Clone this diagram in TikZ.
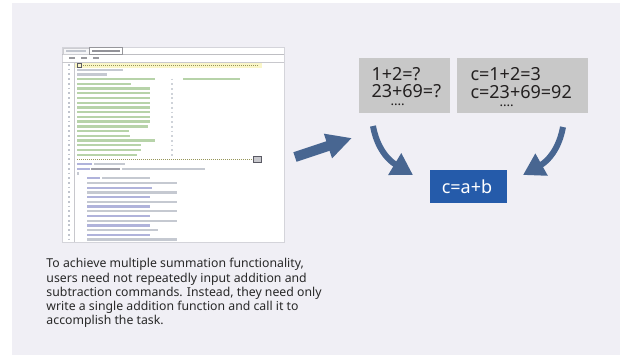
\documentclass[tikz,border=0pt]{standalone}
\usepackage{fontspec}
\setmainfont{Noto Sans}
\usetikzlibrary{arrows.meta}
\definecolor{panelbg}{RGB}{240,239,245}
\definecolor{boxgray}{RGB}{200,200,200}
\definecolor{boxblue}{RGB}{37,91,170}
\definecolor{arrowblue}{RGB}{72,102,145}
\definecolor{codegreen}{RGB}{125,175,100}
\definecolor{codegray}{RGB}{150,158,172}
\definecolor{codeblue}{RGB}{112,118,190}
\definecolor{codeyellow}{RGB}{250,246,200}
\tikzset{every picture/.style={line width=0.75pt}}
\tikzset{
  graybox/.style={fill=boxgray, inner sep=0pt, outer sep=0pt},
  bluebox/.style={fill=boxblue, inner sep=0pt, outer sep=0pt, minimum width=57.75pt, minimum height=24.75pt},
  sumtext/.style={inner sep=0pt, align=left, text={rgb,255:red,35;green,32;blue,32}, font=\fontsize{13.5}{13}\selectfont},
  bodytext/.style={inner sep=0pt, align=left, text={rgb,255:red,40;green,40;blue,40}, font=\fontsize{9.2}{10.7}\selectfont},
  bentarrow/.style={draw=arrowblue, line width=4.5pt, -{Triangle[width=18pt,length=16pt]}},
  fatarrow/.style={draw=arrowblue, line width=7.5pt, -{Triangle[width=18pt,length=19pt]}},
  codeline/.style={line width=1.7pt, draw opacity=0.55},
}
\newcommand{\sumdots}[1]{\\[-7pt]\hspace*{#1}{\fontsize{10}{10}\selectfont ....}}

\begin{document}
\begin{tikzpicture}[x=0.75pt,y=0.75pt,yscale=-1,xscale=1]
	\useasboundingbox (0,0) rectangle (626,355);

	%Shape: Rectangle (panel)
	\fill [panelbg] (12,3) rectangle (620,355);

	%Shape: Rectangle (screenshot)
	\draw [draw={rgb,255:red,212;green,212;blue,218}, fill=white] (62,47) rectangle (284,242);
	%Straight Lines (tab bar)
	\draw [draw={rgb,255:red,190;green,190;blue,195}, line width=0.5] (62,54) -- (284,54);
	\draw [draw={rgb,255:red,205;green,205;blue,210}, fill={rgb,255:red,246;green,246;blue,248}, line width=0.5] (63,48) rectangle (89,54);
	\draw [draw={rgb,255:red,150;green,150;blue,155}, fill=white, line width=0.5] (89,47.5) rectangle (122,54);
	\draw [codeline, codegray] (66,51) -- (86,51);
	\draw [codeline, draw={rgb,255:red,60;green,60;blue,70}] (92,51) -- (120,51);
	%Straight Lines (menu)
	\draw [codeline, draw={rgb,255:red,70;green,70;blue,80}] (69,58) -- (75,58);
	\draw [codeline, draw={rgb,255:red,70;green,70;blue,80}] (81,58) -- (87,58);
	\draw [codeline, draw={rgb,255:red,70;green,70;blue,80}] (93,58) -- (99,58);
	\draw [draw={rgb,255:red,200;green,200;blue,205}, line width=0.5] (62,62) -- (284,62);
	%Straight Lines (gutter)
	\draw [draw={rgb,255:red,200;green,200;blue,205}, line width=0.5] (74.5,62) -- (74.5,242);
	\draw [codegray, line width=2pt, draw opacity=0.6, dash pattern=on 1.3pt off 2.24pt] (69,64) -- (69,241);

	%Straight Lines (row 1)
	\fill [codeyellow] (75,63) rectangle (262,67.5);
	\draw [draw={rgb,255:red,90;green,90;blue,100}, line width=0.5] (77,63.3) rectangle (81,67);
	\draw [draw={rgb,255:red,150;green,150;blue,90}, line width=0.6, dash pattern=on 0.6pt off 0.9pt] (83,65) -- (258,65);
	%Straight Lines (rows 2-3)
	\draw [codeline, codegray] (77,69.7) -- (123,69.7);
	\draw [codeline, codegray] (77,74.4) -- (107,74.4);
	%Straight Lines (rows 4-20)
	\draw [codeline, codegreen] (77,79.2) -- (155,79.2);
	\draw [codeline, codegreen] (77,83.9) -- (131,83.9);
	\draw [codeline, codegreen] (77,88.6) -- (150,88.6);
	\draw [codeline, codegreen] (77,93.3) -- (150,93.3);
	\draw [codeline, codegreen] (77,98.0) -- (150,98.0);
	\draw [codeline, codegreen] (77,102.8) -- (150,102.8);
	\draw [codeline, codegreen] (77,107.5) -- (150,107.5);
	\draw [codeline, codegreen] (77,112.2) -- (150,112.2);
	\draw [codeline, codegreen] (77,116.9) -- (150,116.9);
	\draw [codeline, codegreen] (77,121.6) -- (150,121.6);
	\draw [codeline, codegreen] (77,126.4) -- (148,126.4);
	\draw [codeline, codegreen] (77,131.1) -- (129,131.1);
	\draw [codeline, codegreen] (77,135.8) -- (130,135.8);
	\draw [codeline, codegreen] (77,140.5) -- (155,140.5);
	\draw [codeline, codegreen] (77,145.2) -- (141,145.2);
	\draw [codeline, codegreen] (77,150.0) -- (141,150.0);
	\draw [codeline, codegreen] (77,154.7) -- (137,154.7);
	\draw [codegray, line width=1.7pt, draw opacity=0.45, dash pattern=on 1.3pt off 2.24pt] (172,78.6) -- (172,156);
	\draw [codeline, codegreen] (183,79.2) -- (240,79.2);
	%Straight Lines (row 21)
	\draw [draw={rgb,255:red,150;green,150;blue,90}, line width=0.6, dash pattern=on 0.6pt off 0.9pt] (77,159.4) -- (253,159.4);
	\draw [draw={rgb,255:red,90;green,90;blue,100}, fill={rgb,255:red,200;green,200;blue,205}, line width=0.5] (253,156.4) rectangle (261,162.4);
	%Straight Lines (rows 22-25)
	\draw [codeline, codeblue] (77,164.1) -- (92,164.1);
	\draw [codeline, codegray] (94,164.1) -- (125,164.1);
	\draw [codeline, codeblue] (77,168.8) -- (90,168.8);
	\draw [codeline, draw={rgb,255:red,80;green,80;blue,95}] (91,168.8) -- (120,168.8);
	\draw [codeline, codegray] (122,168.8) -- (205,168.8);
	\draw [codeline, codegray] (77,173.6) -- (79,173.6);
	\draw [codeline, codeblue] (87,178.3) -- (100,178.3);
	\draw [codeline, codegray] (102,178.3) -- (150,178.3);
	%Straight Lines (rows 26-38)
	\draw [codeline, codegray] (87,183.0) -- (177,183.0);
	\draw [codeline, codeblue] (87,187.7) -- (152,187.7);
	\draw [codeline, codegray] (87,192.4) -- (177,192.4);
	\draw [codeline, codeblue] (87,197.2) -- (150,197.2);
	\draw [codeline, codegray] (87,201.9) -- (177,201.9);
	\draw [codeline, codeblue] (87,206.6) -- (150,206.6);
	\draw [codeline, codegray] (87,211.3) -- (177,211.3);
	\draw [codeline, codeblue] (87,216.0) -- (150,216.0);
	\draw [codeline, codegray] (87,220.8) -- (177,220.8);
	\draw [codeline, codeblue] (87,225.5) -- (150,225.5);
	\draw [codeline, codegray] (87,230.2) -- (158,230.2);
	\draw [codeline, codeblue] (87,234.9) -- (150,234.9);
	\draw [codeline, codegray] (87,239.6) -- (177,239.6);

	%Shape: Rectangle
	\node [graybox, minimum width=68.25pt, minimum height=41.25pt] (ask) at (404.5,85.5) {};
	%Shape: Rectangle
	\node [graybox, minimum width=98.25pt, minimum height=41.25pt] (answer) at (522.5,85.5) {};
	%Shape: Rectangle
	\node [bluebox] (func) at (468.5,186.5) {};

	% Text Node
	\node [sumtext, anchor=base west] (asktext) at (371,105.5) {1+2=?\\23+69=?\sumdots{14.25pt}};
	% Text Node
	\node [sumtext, anchor=base west] (answertext) at (470,106) {c=1+2=3\\c=23+69=92\sumdots{21.75pt}};
	% Text Node
	\node [sumtext, text=white] (functext) at (467,187) {c=a+b};

	%Straight Lines
	\coordinate (shot-out) at (295,157);
	\coordinate (shot-in) at (352,138);
	\draw [fatarrow] (shot-out) -- (shot-in);
	%Curve Lines
	\coordinate (ask-out) at (373,126);
	\coordinate (func-left) at (413,175);
	\draw [bentarrow] (ask-out) .. controls (377,148) and (388,160) .. (func-left);
	%Curve Lines
	\coordinate (answer-out) at (563,127);
	\coordinate (func-right) at (523,175);
	\draw [bentarrow] (answer-out) .. controls (559,149) and (548,161) .. (func-right);

	% Text Node
	\node [bodytext, anchor=north west] (note) at (46,258) {To achieve multiple summation functionality,\\users need not repeatedly input addition and\\subtraction commands. Instead, they need only\\write a single addition function and call it to\\accomplish the task.};

\end{tikzpicture}
\end{document}
